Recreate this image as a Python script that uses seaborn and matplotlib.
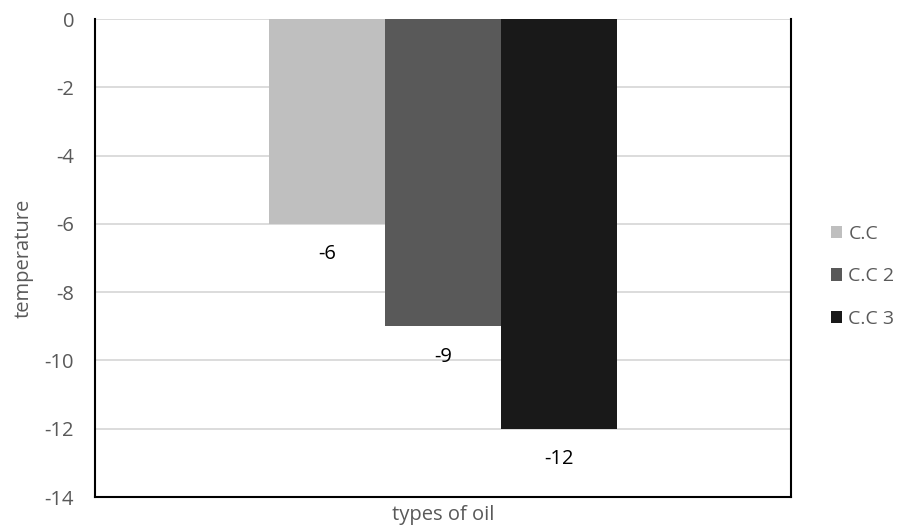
import pandas as pd
import numpy as np
import matplotlib.pyplot as plt
import seaborn as sns

# data
oil_types = ["", "", ""]
series = ["C.C", "C.C 2", "C.C 3"]
temperature = [-6, -9, -12]
colors = ["#bfbfbf", "#595959", "#191919"]

df = pd.DataFrame({"oil": oil_types, "series": series, "temperature": temperature})

sns.set_style("white")
plt.rcParams["font.family"] = ["Open Sans", "DejaVu Sans"]
plt.rcParams["axes.unicode_minus"] = False

fig = plt.figure(figsize=(9.04, 5.31), dpi=100)
ax = fig.add_axes([0.105, 0.064, 0.77, 0.9])

sns.barplot(data=df, x="oil", y="temperature", hue="series", palette=colors,
            width=0.5, saturation=1, linewidth=0, ax=ax, zorder=3)

# data labels under each bar end
for cont in ax.containers:
    for bar in cont:
        h = bar.get_height()
        ax.annotate(f"{h:.0f}", (bar.get_x() + bar.get_width() / 2, h),
                    xytext=(0, -22), textcoords="offset points",
                    ha="center", va="center", fontsize=14.5, color="black")

ax.set_xlim(-0.5, 0.5)
ax.set_ylim(-14, 0)
ax.set_yticks(np.arange(-14, 1, 2))
ax.yaxis.grid(True, color="#d9d9d9", linewidth=1.3, zorder=0)
ax.set_xticks([])
ax.set_xlabel("types of oil", fontsize=14.5, color="#595959", labelpad=6)
ax.set_ylabel("temperature", fontsize=14.5, color="#595959", labelpad=8)
ax.tick_params(axis="y", labelsize=14.5, labelcolor="#595959", length=0, pad=15)

for s in ["left", "right", "bottom"]:
    ax.spines[s].set_color("black")
    ax.spines[s].set_linewidth(1.5)
ax.spines["top"].set_visible(False)

ax.legend(loc="center left", bbox_to_anchor=(1.032, 0.462), frameon=False,
          fontsize=14, labelcolor="#595959", handlelength=0.6, handleheight=0.6,
          labelspacing=1.25, handletextpad=0.3)

fig.savefig("out.png", dpi=100)
